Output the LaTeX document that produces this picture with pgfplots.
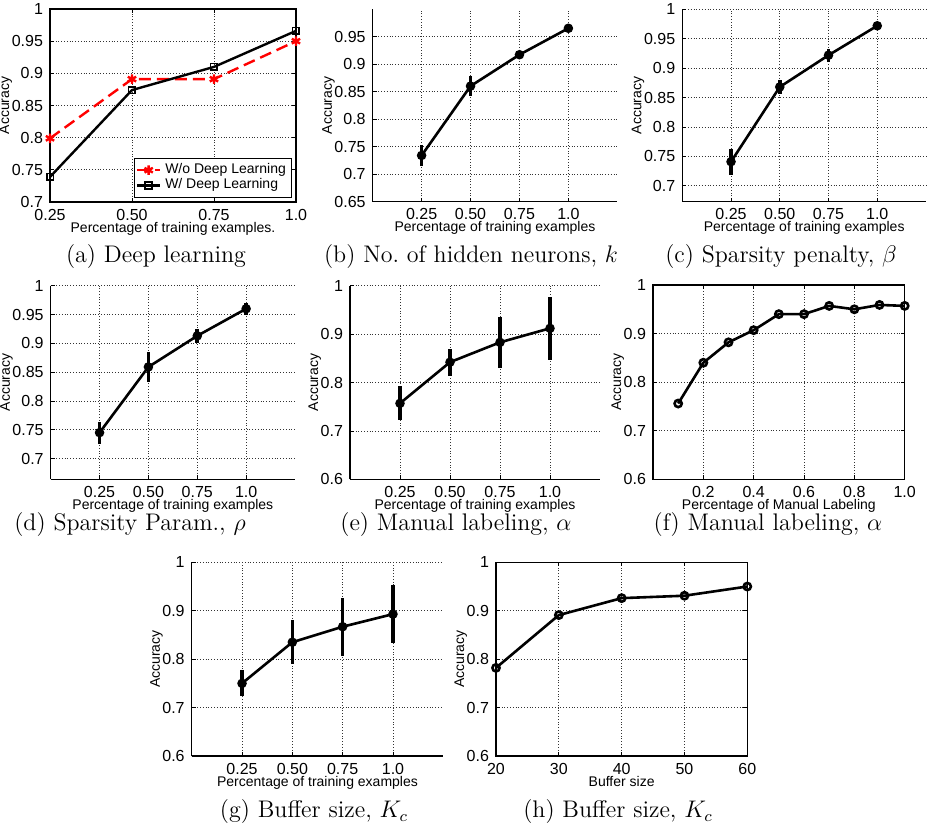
\documentclass[border=0pt]{standalone}
\usepackage{fontspec}
\usepackage{pgfplots}
\pgfplotsset{compat=1.18}
\newfontfamily\arial{Liberation Sans}

\pgfplotsset{
  base/.style={
    scale only axis,
    anchor=south west,
    grid=major,
    major grid style={densely dotted, line width=0.4pt, black!80},
    tick align=inside,
    major tick length=2pt,
    tick style={black, line width=0.4pt},
    axis line style={line width=0.6pt},
    tick label style={font=\arial\fontsize{8}{9}\selectfont},
    label style={font=\arial\fontsize{7}{8}\selectfont},
    /pgf/number format/assume math mode=true,
    ylabel={Accuracy},
    ylabel shift=-7pt,
    xlabel style={at={(axis description cs:0.5,0)}, anchor=base, yshift=-15pt},
  },
  open/.style={
    axis x line*=bottom, axis y line*=left,
    xmin=0, xmax=1.25,
    xtick={0.25,0.5,0.75,1}, xticklabels={0.25,0.50,0.75,1.0},
    xlabel={Percentage of training examples},
  },
  errline/.style={black, line width=1.3pt, mark=*, mark size=1.7pt,
    error bars/.cd, y dir=both, y explicit, error mark=none,
    error bar style={line width=1.8pt}},
  ringline/.style={black, line width=1.3pt, mark=o, mark size=1.8pt},
}
\newcommand\subcap[1]{\fontsize{12}{14}\selectfont #1}

\begin{document}
\begin{tikzpicture}
\useasboundingbox (0,0) rectangle (464pt,-413pt);

% (a)
\begin{axis}[base, at={(25pt,-101pt)}, width=123pt, height=96.5pt,
  xmin=0.25, xmax=1, ymin=0.7, ymax=1,
  xtick={0.25,0.5,0.75,1}, xticklabels={0.25,0.50,0.75,1.0},
  ytick={0.7,0.75,0.8,0.85,0.9,0.95,1},
  xlabel={Percentage of training examples.},
  legend cell align=left,
  legend image code/.code={\draw[mark repeat=2,mark phase=2]
    plot coordinates {(0cm,0cm) (0.2cm,0cm) (0.4cm,0cm)};},
  legend style={at={(axis description cs:1,0)}, anchor=south east,
    xshift=-2pt, yshift=2pt, font=\arial\fontsize{7}{8}\selectfont,
    inner sep=0.8pt, row sep=-3pt, draw=black, line width=0.5pt},
]
\addplot[red, line width=1.2pt, dash pattern=on 6pt off 3pt,
  mark=asterisk, mark size=2.4pt, mark options={solid}]
  coordinates {(0.25,0.799) (0.5,0.891) (0.75,0.891) (1,0.950)};
\addlegendentry{W/o Deep Learning}
\addplot[black, line width=1.2pt, mark=square, mark size=1.7pt,
  mark options={line width=0.9pt}]
  coordinates {(0.25,0.739) (0.5,0.874) (0.75,0.910) (1,0.966)};
\addlegendentry{W/ Deep Learning}
\end{axis}

% (b)
\begin{axis}[base, open, at={(186.35pt,-100.85pt)}, width=122.3pt, height=96.35pt,
  ymin=0.65, ymax=1, ytick={0.65,0.7,0.75,0.8,0.85,0.9,0.95}]
\addplot[errline] coordinates {
  (0.25,0.734) +- (0,0.019)
  (0.5,0.860) +- (0,0.018)
  (0.75,0.917) +- (0,0.007)
  (1,0.965) +- (0,0.006)
};
\end{axis}

% (c)
\begin{axis}[base, open, at={(341.15pt,-100.85pt)}, width=121.85pt, height=96.2pt,
  ymin=0.673, ymax=1, ytick={0.7,0.75,0.8,0.85,0.9,0.95,1}]
\addplot[errline] coordinates {
  (0.25,0.741) +- (0,0.022)
  (0.5,0.868) +- (0,0.012)
  (0.75,0.922) +- (0,0.011)
  (1,0.972) +- (0,0.006)
};
\end{axis}

% (d)
\begin{axis}[base, open, at={(25.35pt,-239.65pt)}, width=122.15pt, height=96.8pt,
  ymin=0.664, ymax=1, ytick={0.7,0.75,0.8,0.85,0.9,0.95,1}]
\addplot[errline] coordinates {
  (0.25,0.745) +- (0,0.019)
  (0.5,0.859) +- (0,0.026)
  (0.75,0.913) +- (0,0.012)
  (1,0.960) +- (0,0.010)
};
\end{axis}

% (e)
\begin{axis}[base, open, at={(175pt,-239.65pt)}, width=125pt, height=96.8pt,
  ymin=0.6, ymax=1, ytick={0.6,0.7,0.8,0.9,1}]
\addplot[errline] coordinates {
  (0.25,0.757) +- (0,0.035)
  (0.5,0.842) +- (0,0.028)
  (0.75,0.883) +- (0,0.053)
  (1,0.912) +- (0,0.065)
};
\end{axis}

% (f)
\begin{axis}[base, at={(326.5pt,-239.65pt)}, width=125.85pt, height=97.15pt,
  xmin=0, xmax=1, ymin=0.6, ymax=1,
  xtick={0.2,0.4,0.6,0.8,1}, xticklabels={0.2,0.4,0.6,0.8,1.0},
  ytick={0.6,0.7,0.8,0.9,1},
  xlabel={Percentage of Manual Labeling}]
\addplot[ringline] coordinates {
  (0.1,0.756) (0.2,0.840) (0.3,0.882) (0.4,0.907) (0.5,0.940)
  (0.6,0.940) (0.7,0.957) (0.8,0.950) (0.9,0.959) (1.0,0.957)
};
\end{axis}

% (g)
\begin{axis}[base, open, at={(95.85pt,-378pt)}, width=125.8pt, height=96.85pt,
  ymin=0.6, ymax=1, ytick={0.6,0.7,0.8,0.9,1}]
\addplot[errline] coordinates {
  (0.25,0.750) +- (0,0.027)
  (0.5,0.835) +- (0,0.045)
  (0.75,0.867) +- (0,0.060)
  (1,0.893) +- (0,0.060)
};
\end{axis}

% (h)
\begin{axis}[base, at={(248pt,-378pt)}, width=125.65pt, height=96.85pt,
  xmin=20, xmax=60, ymin=0.6, ymax=1,
  xtick={20,30,40,50,60}, ytick={0.6,0.7,0.8,0.9,1},
  xlabel={Buffer size}]
\addplot[ringline] coordinates {
  (20,0.782) (30,0.891) (40,0.926) (50,0.931) (60,0.950)
};
\end{axis}

\node at (78pt,-128.5pt) {\subcap{(a) Deep learning}};
\node at (235.5pt,-128.5pt) {\subcap{(b) No.\ of hidden neurons, $k$}};
\node at (390.5pt,-128.5pt) {\subcap{(c) Sparsity penalty, $\beta$}};
\node at (65pt,-262.5pt) {\subcap{(d) Sparsity Param., $\rho$}};
\node at (228pt,-262.5pt) {\subcap{(e) Manual labeling, $\alpha$}};
\node at (384pt,-262.5pt) {\subcap{(f) Manual labeling, $\alpha$}};
\node at (157pt,-406pt) {\subcap{(g) Buffer size, $K_c$}};
\node at (309pt,-406pt) {\subcap{(h) Buffer size, $K_c$}};
\end{tikzpicture}
\end{document}
